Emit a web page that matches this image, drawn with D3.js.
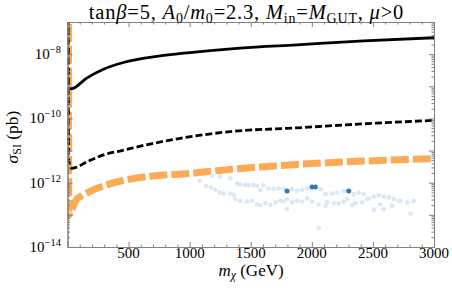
<!DOCTYPE html>
<html>
<head>
<meta charset="utf-8">
<script src="https://cdn.jsdelivr.net/npm/d3@7"></script>
<style>
  body { margin: 0; background: #fff; }
</style>
</head>
<body>
<div id="chart"></div>
<script>
// chart data (m_chi in GeV, sigma_SI in pb)
const solidMass = [3, 34, 157, 294, 458, 731, 1004, 1414, 1879, 2425, 3000];
const solidSigma = [8.5e-10, 8.5e-10, 1.8e-9, 3.4e-9, 5.5e-9, 8.5e-9, 1.12e-8, 1.55e-8, 1.95e-8, 2.57e-8, 3.24e-8];

const dashMass = [6, 9, 35, 171, 307, 444, 676, 922, 1332, 1879, 2425, 3000];
const dashSigma = [1e-5, 5.0e-12, 2.8e-12, 4.7e-12, 7.6e-12, 1.0e-11, 1.6e-11, 2.4e-11, 3.9e-11, 5.1e-11, 6.8e-11, 8.7e-11];

const orangeMass = [8, 10, 76, 117, 225, 334, 444, 676, 1004, 1332, 1879, 2425, 3000];
const orangeSigma = [1e-5, 1.0e-13, 3.1e-13, 3.9e-13, 6.3e-13, 8.9e-13, 1.15e-12, 1.6e-12, 1.95e-12, 2.6e-12, 3.7e-12, 4.7e-12, 5.6e-12];

const pointMass = [1081, 1135, 1174, 1209, 1244, 1277, 1332, 1359, 1387, 1414, 1455, 1482, 1523, 1551, 1578,
  1605, 1646, 1687, 1728, 1769, 1838, 1879, 1920, 1961, 2070, 2111, 2166, 2207, 2261, 2343, 2384, 2425,
  2466, 2507, 2548, 2589, 2630, 2671, 2725, 2780, 2834, 1184, 1250, 1332,
  1373, 1414, 1469, 1510, 1551, 1578, 1619, 1660, 1701, 1742, 1769, 1797, 1797, 1838, 1879, 1920, 1961,
  2002, 2056, 2111, 2125, 2179, 2220, 2261, 2289, 2330, 2357, 2411, 2452, 2507, 2561, 2589, 2657, 2712,
  2807, 2056];
const pointSigma = [1.15e-12, 7.9e-13, 7.1e-13, 6.0e-13, 5.0e-13, 4.6e-13, 4.6e-13, 4.2e-13, 9.5e-13, 8.9e-13,
  8.5e-13, 8.3e-13, 8.5e-13, 7.9e-13, 5.9e-13, 8.3e-13, 6.6e-13, 6.3e-13, 6.6e-13, 6.6e-13, 6.3e-13, 5.6e-13,
  6.0e-13, 6.6e-13, 6.3e-13, 4.4e-13, 4.6e-13, 4.9e-13, 5.4e-13, 4.4e-13, 4.9e-13, 4.4e-13, 3.2e-13, 3.7e-13,
  4.1e-13, 3.7e-13, 3.5e-13, 3.1e-13, 2.75e-13, 2.45e-13, 2.75e-13, 1.66e-12, 1.55e-12, 1.38e-12,
  3.1e-13, 2.75e-13, 2.6e-13, 2.75e-13, 2.1e-13, 2.0e-13, 2.3e-13, 2.05e-13, 2.45e-13, 2.75e-13, 2.6e-13,
  3.1e-13, 1.5e-13, 2.45e-13, 2.75e-13, 2.6e-13, 3.2e-13, 2.6e-13, 2.1e-13, 1.9e-13, 2.45e-13, 2.3e-13,
  2.3e-13, 2.6e-13, 3.1e-13, 2.0e-13, 2.35e-13, 2.45e-13, 3.1e-13, 1.45e-13, 2.1e-13, 1.5e-13, 1.9e-13,
  2.75e-13, 1.1e-13, 3.9e-14];

const darkMass = [1797, 2002, 2029, 2302];
const darkSigma = [5.5e-13, 7.4e-13, 7.4e-13, 5.5e-13];

const xTicks = [500, 1000, 1500, 2000, 2500, 3000];
const yLabelExps = [-14, -12, -10, -8];

const svgWidth = 452;
const svgHeight = 297;
const plot = { left: 67.5, right: 434, top: 22, bottom: 247 };
const serif = "'Liberation Serif', 'Times New Roman', Times, serif";

const svg = d3.select("#chart")
  .append("svg")
  .attr("width", svgWidth)
  .attr("height", svgHeight)
  .attr("font-family", serif);

const x = d3.scaleLinear().domain([0, 3000]).range([plot.left, plot.right]);
const y = d3.scaleLog().domain([1e-14, 1e-7]).range([plot.bottom, plot.top]);

const frameColor = "#808080";

svg.append("clipPath").attr("id", "clip")
  .append("rect")
  .attr("x", plot.left).attr("y", plot.top)
  .attr("width", plot.right - plot.left).attr("height", plot.bottom - plot.top);

// ----- scatter points -----
const dots = svg.append("g").attr("clip-path", "url(#clip)");
dots.selectAll("circle.light")
  .data(pointMass.map((m, i) => [m, pointSigma[i]]))
  .enter().append("circle")
  .attr("class", "light")
  .attr("cx", d => x(d[0]))
  .attr("cy", d => y(d[1]))
  .attr("r", 2.3)
  .attr("fill", "#dae7f5");

// ----- curves -----
const line = d3.line()
  .x(d => x(d[0]))
  .y(d => y(d[1]))
  .curve(d3.curveMonotoneX);

const curves = svg.append("g").attr("clip-path", "url(#clip)");

curves.append("path")
  .attr("d", line(orangeMass.map((m, i) => [m, orangeSigma[i]])))
  .attr("fill", "none")
  .attr("stroke", "#fdaa55")
  .attr("stroke-width", 7)
  .attr("stroke-dasharray", "18,4");

curves.append("path")
  .attr("d", line(dashMass.map((m, i) => [m, dashSigma[i]])))
  .attr("fill", "none")
  .attr("stroke", "#000")
  .attr("stroke-width", 2.8)
  .attr("stroke-dasharray", "7,3");

curves.append("path")
  .attr("d", line(solidMass.map((m, i) => [m, solidSigma[i]])))
  .attr("fill", "none")
  .attr("stroke", "#000")
  .attr("stroke-width", 2.8);

dots.raise();
dots.selectAll("circle.dark")
  .data(darkMass.map((m, i) => [m, darkSigma[i]]))
  .enter().append("circle")
  .attr("class", "dark")
  .attr("cx", d => x(d[0]))
  .attr("cy", d => y(d[1]))
  .attr("r", 2.5)
  .attr("fill", "#2b7bba");

// ----- frame and ticks -----
const majorX = d3.range(0, 3001, 500);
const minorX = d3.range(0, 3001, 100).filter(v => v % 500 !== 0);
const majorY = d3.range(-14, -6).map(e => Math.pow(10, e));
const minorY = [];
d3.range(-14, -7).forEach(e => { for (let k = 2; k <= 9; k++) minorY.push(k * Math.pow(10, e)); });

function styleAxis(g) {
  g.selectAll("path").attr("stroke", frameColor);
  g.selectAll("line").attr("stroke", frameColor);
  g.selectAll("text").remove();
}

svg.append("g")
  .attr("transform", `translate(0,${plot.bottom})`)
  .call(d3.axisBottom(x).tickValues(majorX).tickSize(-5).tickSizeOuter(0))
  .call(styleAxis);
svg.append("g")
  .attr("transform", `translate(0,${plot.bottom})`)
  .call(d3.axisBottom(x).tickValues(minorX).tickSize(-2.5).tickSizeOuter(0))
  .call(styleAxis);
svg.append("g")
  .attr("transform", `translate(0,${plot.top})`)
  .call(d3.axisTop(x).tickValues(majorX).tickSize(-5).tickSizeOuter(0))
  .call(styleAxis);
svg.append("g")
  .attr("transform", `translate(0,${plot.top})`)
  .call(d3.axisTop(x).tickValues(minorX).tickSize(-2.5).tickSizeOuter(0))
  .call(styleAxis);

svg.append("g")
  .attr("transform", `translate(${plot.left},0)`)
  .call(d3.axisLeft(y).tickValues(majorY).tickSize(-5).tickSizeOuter(0))
  .call(styleAxis);
svg.append("g")
  .attr("transform", `translate(${plot.left},0)`)
  .call(d3.axisLeft(y).tickValues(minorY).tickSize(-2.5).tickSizeOuter(0))
  .call(styleAxis);
svg.append("g")
  .attr("transform", `translate(${plot.right},0)`)
  .call(d3.axisRight(y).tickValues(majorY).tickSize(-5).tickSizeOuter(0))
  .call(styleAxis);
svg.append("g")
  .attr("transform", `translate(${plot.right},0)`)
  .call(d3.axisRight(y).tickValues(minorY).tickSize(-2.5).tickSizeOuter(0))
  .call(styleAxis);

// x tick labels
svg.append("g").selectAll("text")
  .data(xTicks)
  .enter().append("text")
  .attr("x", d => x(d))
  .attr("y", 258)
  .attr("text-anchor", "middle")
  .attr("font-size", 15)
  .text(d => d);

// y tick labels with superscripts
yLabelExps.forEach(e => {
  const t = svg.append("text")
    .attr("x", 61)
    .attr("y", y(Math.pow(10, e)) + 5)
    .attr("text-anchor", "end")
    .attr("font-size", 15);
  t.append("tspan").text("10");
  t.append("tspan").attr("dy", -6).attr("font-size", 10.5).text("\u2212" + Math.abs(e));
});

// axis titles
const xt = svg.append("text")
  .attr("x", 251).attr("y", 276)
  .attr("text-anchor", "middle")
  .attr("font-size", 17);
xt.append("tspan").attr("font-style", "italic").text("m");
xt.append("tspan").attr("font-style", "italic").attr("font-size", 12).attr("dy", 3).text("\u03c7");
xt.append("tspan").attr("dy", -3).text(" (GeV)");

const yt = svg.append("text")
  .attr("transform", "translate(18,137) rotate(-90)")
  .attr("text-anchor", "middle")
  .attr("font-size", 17.5);
yt.append("tspan").attr("font-style", "italic").text("\u03c3");
yt.append("tspan").attr("font-size", 12).attr("dy", 3).text("SI");
yt.append("tspan").attr("dy", -3).text(" (pb)");

// title
const title = svg.append("text")
  .attr("x", 246.5).attr("y", 18.5)
  .attr("text-anchor", "middle")
  .attr("font-size", 20.5)
  .attr("letter-spacing", 0.8);
const parts = [
  ["tan", null], ["\u03b2", "italic"], ["=5, ", null],
  ["A", "italic"], ["0", "sub"], ["/", null],
  ["m", "italic"], ["0", "sub"], ["=2.3, ", null],
  ["M", "italic"], ["in", "sub"], ["=", null],
  ["M", "italic"], ["GUT", "sub"], [", ", null],
  ["\u03bc", "italic"], [">0", null]
];
let lowered = false;
parts.forEach(p => {
  const ts = title.append("tspan").text(p[0]);
  if (p[1] === "italic") ts.attr("font-style", "italic");
  if (p[1] === "sub") {
    ts.attr("font-size", 14).attr("dy", lowered ? 0 : 4);
    lowered = true;
  } else if (lowered) {
    ts.attr("dy", -4);
    lowered = false;
  }
});
</script>
</body>
</html>
